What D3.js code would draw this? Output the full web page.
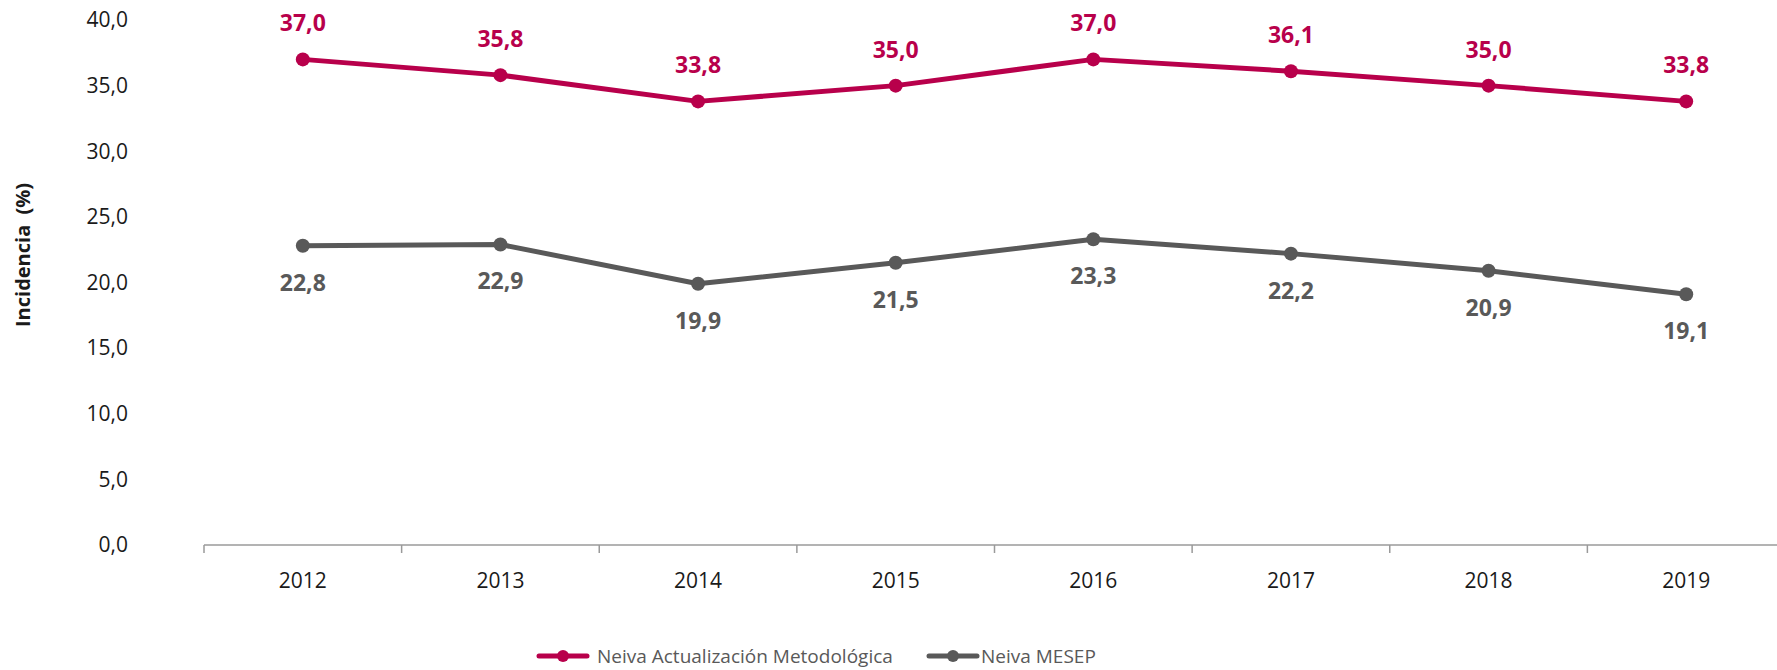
<!DOCTYPE html>
<html>
<head>
<meta charset="utf-8">
<script src="https://cdn.jsdelivr.net/npm/d3@7"></script>
<style>
  html, body { margin: 0; padding: 0; background: #fff; }
  svg { display: block; font-family: "Open Sans", "Noto Sans", sans-serif; }
</style>
</head>
<body>
<svg id="chart" width="1777" height="670"></svg>
<script>
// Incidence of poverty in Neiva, 2012–2019
const years = ["2012", "2013", "2014", "2015", "2016", "2017", "2018", "2019"];
const actualizacion = [37.0, 35.8, 33.8, 35.0, 37.0, 36.1, 35.0, 33.8];
const mesep = [22.8, 22.9, 19.9, 21.5, 23.3, 22.2, 20.9, 19.1];
const yTicks = [0, 5, 10, 15, 20, 25, 30, 35, 40];
const seriesNames = ["Neiva Actualización Metodológica", "Neiva MESEP"];
const seriesColors = ["#B8004B", "#595959"];

const svg = d3.select("#chart");
const fmt = v => d3.format(".1f")(v).replace(".", ",");

const x = d3.scaleBand().domain(years).range([204, 1785]);
const y = d3.scaleLinear().domain([0, 40]).range([545, 20]);

// Y tick labels (no axis line)
svg.append("g")
  .selectAll("text")
  .data(yTicks)
  .join("text")
  .attr("x", 128)
  .attr("y", d => y(d))
  .attr("dy", "0.35em")
  .attr("text-anchor", "end")
  .attr("font-size", 21)
  .attr("fill", "#1a1a1a")
  .text(fmt);

// Y axis title
svg.append("text")
  .attr("transform", "translate(23,255) rotate(-90)")
  .attr("text-anchor", "middle")
  .attr("dy", "0.35em")
  .attr("font-size", 20)
  .attr("font-weight", 700)
  .attr("word-spacing", 5)
  .attr("fill", "#1a1a1a")
  .text("Incidencia (%)");

// X axis with category boundary ticks
const xAxis = svg.append("g").attr("transform", `translate(0,${y(0)})`);
xAxis.append("line")
  .attr("x1", x.range()[0]).attr("x2", x.range()[1])
  .attr("stroke", "#9a9a9a").attr("stroke-width", 1.5);
xAxis.selectAll("line.tick")
  .data(years)
  .join("line")
  .attr("class", "tick")
  .attr("x1", d => x(d)).attr("x2", d => x(d))
  .attr("y1", 0).attr("y2", 8)
  .attr("stroke", "#9a9a9a").attr("stroke-width", 1.5);
xAxis.selectAll("text")
  .data(years)
  .join("text")
  .attr("x", d => x(d) + x.bandwidth() / 2)
  .attr("y", 36)
  .attr("dy", "0.35em")
  .attr("text-anchor", "middle")
  .attr("font-size", 21)
  .attr("fill", "#1a1a1a")
  .text(d => d);

const cx = d => x(d) + x.bandwidth() / 2;
const line = d3.line().x((d, i) => cx(years[i])).y(d => y(d));

const series = [
  { name: seriesNames[0], values: actualizacion, color: seriesColors[0], labelDy: -36 },
  { name: seriesNames[1], values: mesep, color: seriesColors[1], labelDy: 37 }
];

series.forEach(s => {
  const g = svg.append("g");
  g.append("path")
    .attr("d", line(s.values))
    .attr("fill", "none")
    .attr("stroke", s.color)
    .attr("stroke-width", 5)
    .attr("stroke-linejoin", "round");
  g.selectAll("circle")
    .data(s.values)
    .join("circle")
    .attr("cx", (d, i) => cx(years[i]))
    .attr("cy", d => y(d))
    .attr("r", 7)
    .attr("fill", s.color);
  g.selectAll("text")
    .data(s.values)
    .join("text")
    .attr("x", (d, i) => cx(years[i]))
    .attr("y", d => y(d) + s.labelDy)
    .attr("dy", "0.35em")
    .attr("text-anchor", "middle")
    .attr("font-size", 23)
    .attr("font-weight", 700)
    .attr("fill", s.color)
    .text(fmt);
});

// Legend
const legendItems = [
  { x: 539, w: 48, textX: 597 },
  { x: 929, w: 48, textX: 981 }
];
series.forEach((s, i) => {
  const it = legendItems[i];
  const lg = svg.append("g").attr("transform", `translate(${it.x},656)`);
  lg.append("line")
    .attr("x1", 0).attr("x2", it.w)
    .attr("stroke", s.color).attr("stroke-width", 5)
    .attr("stroke-linecap", "round");
  lg.append("circle").attr("cx", it.w / 2).attr("cy", 0).attr("r", 6).attr("fill", s.color);
  lg.append("text")
    .attr("x", it.textX - it.x)
    .attr("y", 0)
    .attr("dy", "0.35em")
    .attr("font-size", 19)
    .attr("fill", "#595959")
    .text(s.name);
});
</script>
</body>
</html>
